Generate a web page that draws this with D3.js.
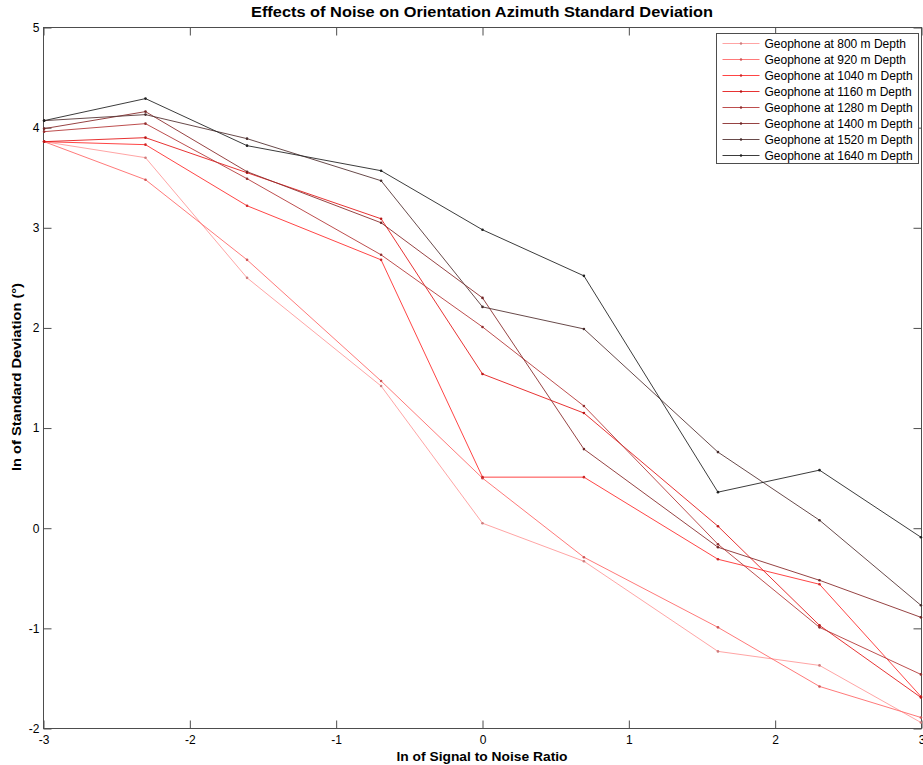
<!DOCTYPE html>
<html>
<head>
<meta charset="utf-8">
<script src="https://cdn.jsdelivr.net/npm/d3@7/dist/d3.min.js"></script>
<style>
  html, body { margin: 0; padding: 0; background: #fff; }
  svg { display: block; }
  text { font-family: "Liberation Sans", Arial, sans-serif; fill: #000; }
</style>
</head>
<body>
<svg id="chart" width="923" height="765"></svg>
<script>
// ln(SNR) sample positions: ln(0.05), ln(0.1), ln(0.2), ln(0.5), ln(1), ln(2), ln(5), ln(10), ln(20)
const snrLn = [-2.996, -2.303, -1.609, -0.693, 0, 0.693, 1.609, 2.303, 2.996];

// ln of azimuth standard deviation for each geophone depth
const depth800  = [3.86, 3.70, 2.50, 1.42, 0.05, -0.33, -1.23, -1.37, -1.94];
const depth920  = [3.86, 3.48, 2.68, 1.47, 0.50, -0.29, -0.99, -1.58, -1.89];
const depth1040 = [3.86, 3.83, 3.22, 2.68, 0.51, 0.51, -0.31, -0.56, -1.68];
const depth1160 = [3.86, 3.90, 3.55, 3.09, 1.54, 1.15, 0.02, -0.97, -1.69];
const depth1280 = [3.96, 4.04, 3.49, 2.73, 2.01, 1.22, -0.16, -0.99, -1.46];
const depth1400 = [3.99, 4.16, 3.56, 3.05, 2.30, 0.79, -0.19, -0.52, -0.89];
const depth1520 = [4.07, 4.13, 3.89, 3.47, 2.21, 1.99, 0.76, 0.08, -0.77];
const depth1640 = [4.07, 4.29, 3.82, 3.57, 2.98, 2.52, 0.36, 0.58, -0.09];

const seriesNames = ["Geophone at 800 m Depth", "Geophone at 920 m Depth",
  "Geophone at 1040 m Depth", "Geophone at 1160 m Depth", "Geophone at 1280 m Depth",
  "Geophone at 1400 m Depth", "Geophone at 1520 m Depth", "Geophone at 1640 m Depth"];
const seriesValues = [depth800, depth920, depth1040, depth1160, depth1280, depth1400, depth1520, depth1640];
const seriesColors = ["#ff9a9a", "#ff6a6a", "#ff3030", "#e41c1c", "#b53a3a", "#8a2e2e", "#573535", "#262626"];

const xTicks = [-3, -2, -1, 0, 1, 2, 3];
const yTicks = [-2, -1, 0, 1, 2, 3, 4, 5];
const tickText = d => String(d);   // plain hyphen-minus labels

const svg = d3.select("#chart");
const plotLeft = 43.5, plotRight = 921.5, plotTop = 27.5, plotBottom = 728.5;

const x = d3.scaleLinear().domain([-3, 3]).range([plotLeft, plotRight]);
const y = d3.scaleLinear().domain([-2, 5]).range([plotBottom, plotTop]);

const axisColor = "#4d4d4d";
const tickLen = 8;

function styleAxis(g) {
  g.select(".domain").remove();
  g.selectAll(".tick line").attr("stroke", axisColor).attr("stroke-width", 1);
  g.selectAll(".tick text").style("font-size", "12px").attr("fill", "#000");
}

// bottom and left axes with labels, ticks pointing inward
svg.append("g").attr("transform", `translate(0,${plotBottom})`)
  .call(d3.axisBottom(x).tickValues(xTicks).tickFormat(tickText)
    .tickSizeInner(-tickLen).tickSizeOuter(0).tickPadding(7))
  .call(styleAxis);
svg.append("g").attr("transform", `translate(${plotLeft},0)`)
  .call(d3.axisLeft(y).tickValues(yTicks).tickFormat(tickText)
    .tickSizeInner(-tickLen).tickSizeOuter(0).tickPadding(4))
  .call(styleAxis);
// top and right mirror ticks
svg.append("g").attr("transform", `translate(0,${plotTop})`)
  .call(d3.axisTop(x).tickValues(xTicks).tickFormat("")
    .tickSizeInner(-tickLen).tickSizeOuter(0))
  .call(styleAxis);
svg.append("g").attr("transform", `translate(${plotRight},0)`)
  .call(d3.axisRight(y).tickValues(yTicks).tickFormat("")
    .tickSizeInner(-tickLen).tickSizeOuter(0))
  .call(styleAxis);

// plot frame
svg.append("rect")
  .attr("x", plotLeft).attr("y", plotTop)
  .attr("width", plotRight - plotLeft).attr("height", plotBottom - plotTop)
  .attr("fill", "none").attr("stroke", axisColor).attr("stroke-width", 1);

// series lines and point markers
const line = d3.line().x((d, i) => x(snrLn[i])).y(d => y(d));
const plot = svg.append("g");
seriesValues.forEach((vals, s) => {
  const g = plot.append("g");
  g.append("path").datum(vals)
    .attr("d", line)
    .attr("fill", "none")
    .attr("stroke", seriesColors[s])
    .attr("stroke-width", 0.9);
  g.selectAll("circle").data(vals).join("circle")
    .attr("cx", (d, i) => x(snrLn[i]))
    .attr("cy", d => y(d))
    .attr("r", 1.3)
    .attr("fill", d3.color(seriesColors[s]).darker(0.6));
});

// title and axis labels
svg.append("text")
  .attr("x", 482).attr("y", 17)
  .attr("text-anchor", "middle")
  .style("font-size", "14px").style("font-weight", "bold")
  .attr("textLength", 462).attr("lengthAdjust", "spacingAndGlyphs")
  .text("Effects of Noise on Orientation Azimuth Standard Deviation");
svg.append("text")
  .attr("x", 482).attr("y", 761)
  .attr("text-anchor", "middle")
  .style("font-size", "13px").style("font-weight", "bold")
  .attr("textLength", 171).attr("lengthAdjust", "spacingAndGlyphs")
  .text("ln of Signal to Noise Ratio");
svg.append("text")
  .attr("transform", "translate(21,377) rotate(-90)")
  .attr("text-anchor", "middle")
  .style("font-size", "13px").style("font-weight", "bold")
  .attr("textLength", 188).attr("lengthAdjust", "spacingAndGlyphs")
  .text("ln of Standard Deviation (°)");

// legend
const legend = svg.append("g");
const lgX = 716.5, lgY = 33.5, lgW = 202, lgH = 130, rowH = 16;
legend.append("rect")
  .attr("x", lgX).attr("y", lgY).attr("width", lgW).attr("height", lgH)
  .attr("fill", "#fff").attr("stroke", axisColor).attr("stroke-width", 1);
seriesNames.forEach((name, s) => {
  const cy = lgY + 10 + s * rowH;
  legend.append("line")
    .attr("x1", lgX + 6).attr("x2", lgX + 43)
    .attr("y1", cy).attr("y2", cy)
    .attr("stroke", seriesColors[s]).attr("stroke-width", 0.9);
  legend.append("circle")
    .attr("cx", lgX + 24.5).attr("cy", cy).attr("r", 1.2)
    .attr("fill", d3.color(seriesColors[s]).darker(0.6));
  legend.append("text")
    .attr("x", lgX + 48).attr("y", cy + 4.3)
    .style("font-size", "12px")
    .text(name);
});
</script>
</body>
</html>
